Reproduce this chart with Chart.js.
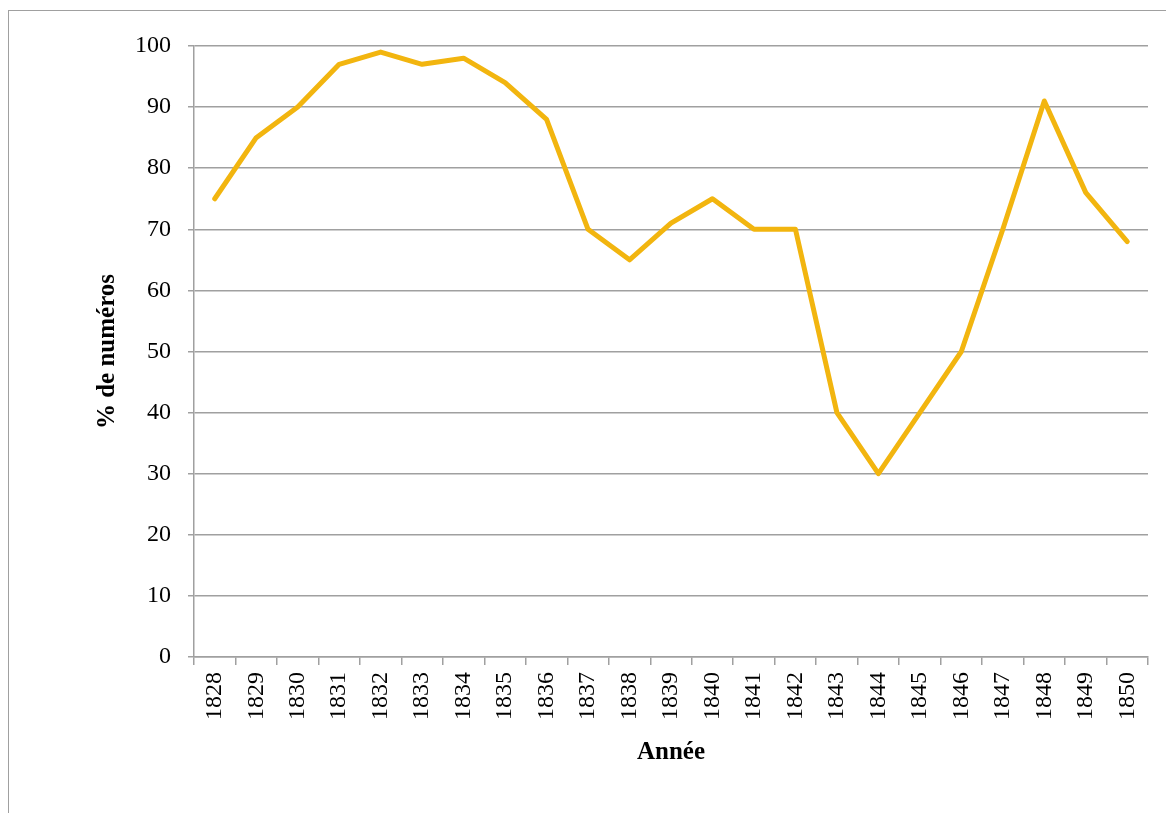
<!DOCTYPE html>
<html>
<head>
<meta charset="utf-8">
<script src="https://cdn.jsdelivr.net/npm/chart.js@4.4.1/dist/chart.umd.min.js"></script>
<style>
  html, body { margin: 0; padding: 0; background: #fff; overflow: hidden; width: 1166px; height: 813px; }
  #frame { position: absolute; left: 8px; top: 10px; width: 2000px; height: 2000px; border-left: 1.5px solid #a0a0a0; border-top: 1.5px solid #a0a0a0; box-sizing: border-box; }
  #wrap { position: absolute; left: 0; top: 0; width: 1166px; height: 813px; }
</style>
</head>
<body>
<div id="frame"></div>
<div id="wrap"><canvas id="c" width="1166" height="813"></canvas></div>
<script>
const years = ['1828','1829','1830','1831','1832','1833','1834','1835','1836','1837','1838','1839','1840','1841','1842','1843','1844','1845','1846','1847','1848','1849','1850'];
const percentNumeros = [75, 85, 90, 97, 99, 97, 98, 94, 88, 70, 65, 71, 75, 70, 70, 40, 30, 40, 50, 70, 91, 76, 68];
const yTitle = '% de numéros';
const xTitle = 'Année';

const gridColor = '#a0a0a0';
const serif = "'Liberation Serif', 'DejaVu Serif', serif";

new Chart(document.getElementById('c'), {
  type: 'line',
  data: {
    labels: years,
    datasets: [{
      data: percentNumeros,
      borderColor: '#F2B50F',
      backgroundColor: '#F2B50F',
      borderWidth: 5,
      pointRadius: 0,
      pointHoverRadius: 0,
      tension: 0,
      borderJoinStyle: 'round',
      borderCapStyle: 'round',
      fill: false
    }]
  },
  options: {
    responsive: false,
    devicePixelRatio: 1,
    animation: false,
    layout: { padding: { top: 46, right: 18, left: 0, bottom: 0 } },
    plugins: { legend: { display: false }, tooltip: { enabled: false } },
    scales: {
      x: {
        type: 'category',
        offset: true,
        grid: { display: true, drawOnChartArea: false, drawTicks: true, tickLength: 8, offset: true, color: gridColor, lineWidth: 1.5 },
        border: { display: true, color: gridColor, width: 1.5 },
        ticks: { minRotation: 90, maxRotation: 90, autoSkip: false, padding: 7, color: '#000', font: { family: serif, size: 24 } },
        title: { display: true, text: xTitle, color: '#000', font: { family: serif, size: 25, weight: 'bold' }, padding: { top: 0, bottom: 45 } },
        afterFit: (s) => { s.height = 156; }
      },
      y: {
        min: 0, max: 100,
        grid: { display: true, drawOnChartArea: true, drawTicks: true, tickLength: 6, color: gridColor, lineWidth: 1.5 },
        border: { display: true, color: gridColor, width: 1.5 },
        ticks: { stepSize: 10, padding: 17, color: '#000', font: { family: serif, size: 24 } },
        title: { display: true, text: yTitle, color: '#000', font: { family: serif, size: 25, weight: 'bold' }, padding: { top: 93, bottom: 0 } },
        afterFit: (s) => { s.width = 194; }
      }
    }
  }
});
</script>
</body>
</html>
